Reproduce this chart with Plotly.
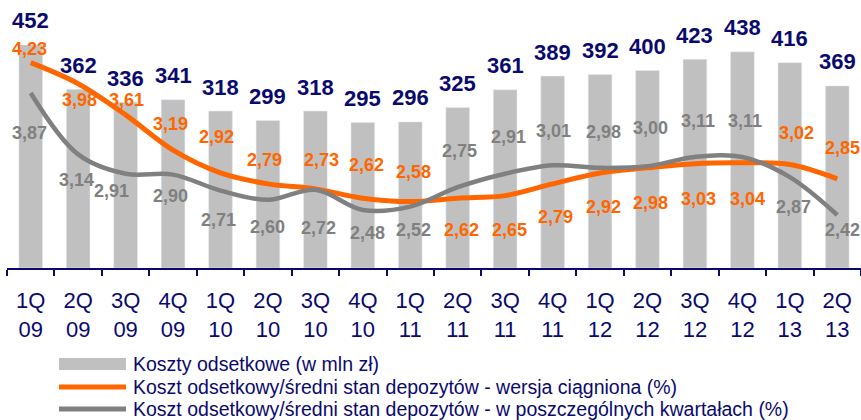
import plotly.graph_objects as go

# Quarterly data, 1Q 2009 - 2Q 2013
quarters = ["1Q", "2Q", "3Q", "4Q", "1Q", "2Q", "3Q", "4Q", "1Q", "2Q", "3Q", "4Q",
            "1Q", "2Q", "3Q", "4Q", "1Q", "2Q"]
years = ["09", "09", "09", "09", "10", "10", "10", "10", "11", "11", "11", "11",
         "12", "12", "12", "12", "13", "13"]
interest_costs = [452, 362, 336, 341, 318, 299, 318, 295, 296, 325, 361, 389,
                  392, 400, 423, 438, 416, 369]
rate_cumulative = [4.23, 3.98, 3.61, 3.19, 2.92, 2.79, 2.73, 2.62, 2.58, 2.62, 2.65, 2.79,
                   2.92, 2.98, 3.03, 3.04, 3.02, 2.85]
rate_quarterly = [3.87, 3.14, 2.91, 2.90, 2.71, 2.60, 2.72, 2.48, 2.52, 2.75, 2.91, 3.01,
                  2.98, 3.00, 3.11, 3.11, 2.87, 2.42]

series_names = [
    "Koszty odsetkowe (w mln zł)",
    "Koszt odsetkowy/średni stan depozytów - wersja ciągniona (%)",
    "Koszt odsetkowy/średni stan depozytów - w poszczególnych kwartałach (%)",
]

# label placement (pixel offsets from each point)
orange_dy = [14, -16, 15, 26, 36, 24, 29, 33, 30, -32, -34, -33, -34, -35, -35, -36, 32, 31]
orange_dx = [-1, 1, 1, -3, -4, -3, 6, 4, 3, 4, 4, 3, 3, 3, 4, 5, 7, 5]
gray_dy = [-40, -26, -17, -21, -29, -27, -38, -23, -23, 36, 37, 34, 36, 38, 36, 36, -30, -15]
gray_dx = [-1, -2, -14, -3, -2, 0, 3, 5, 3, 2, 3, 1, 3, 3, 3, 3, 4, 5]

NAVY = "#0A0A6E"
ORANGE = "#FF6600"
GRAY_LINE = "#808080"
GRAY_BAR = "#C0C0C0"
FONT = "Arial, Liberation Sans, sans-serif"

W, H = 861, 420
ML, MR, MT, MB = 7, 0, 0, 152

categories = [f"{q}<br>{y}" for q, y in zip(quarters, years)]


def pl(v):
    return f"{v:.2f}".replace(".", ",")


fig = go.Figure()
fig.add_trace(go.Bar(x=categories, y=interest_costs, marker_color=GRAY_BAR,
                     width=0.5, name=series_names[0], yaxis="y"))
fig.add_trace(go.Scatter(x=categories, y=rate_cumulative, mode="lines",
                         line=dict(color=ORANGE, width=5, shape="spline", smoothing=1.0),
                         name=series_names[1], yaxis="y2"))
fig.add_trace(go.Scatter(x=categories, y=rate_quarterly, mode="lines",
                         line=dict(color=GRAY_LINE, width=4.5, shape="spline", smoothing=1.0),
                         name=series_names[2], yaxis="y2"))

annotations = []
for c, v in zip(categories, interest_costs):
    annotations.append(dict(x=c, y=v, xref="x", yref="y", text=f"<b>{v}</b>",
                            showarrow=False, yshift=24, xanchor="center", yanchor="middle",
                            font=dict(family=FONT, size=22, color=NAVY)))
for c, v, dx, dy in zip(categories, rate_cumulative, orange_dx, orange_dy):
    annotations.append(dict(x=c, y=v, xref="x", yref="y2", text=f"<b>{pl(v)}</b>",
                            showarrow=False, xshift=dx, yshift=dy, xanchor="center",
                            yanchor="middle", font=dict(family=FONT, size=18, color=ORANGE)))
for c, v, dx, dy in zip(categories, rate_quarterly, gray_dx, gray_dy):
    annotations.append(dict(x=c, y=v, xref="x", yref="y2", text=f"<b>{pl(v)}</b>",
                            showarrow=False, xshift=dx, yshift=dy, xanchor="center",
                            yanchor="middle", font=dict(family=FONT, size=18, color=GRAY_LINE)))

# legend drawn below the axis
pw, ph = W - ML - MR, H - MT - MB


def px(x):
    return (x - ML) / pw


def py(y):
    return (H - MB - y) / ph


shapes = [
    dict(type="rect", xref="paper", yref="paper", x0=px(59), x1=px(126), y0=py(358), y1=py(370),
         fillcolor=GRAY_BAR, line=dict(width=0)),
    dict(type="line", xref="paper", yref="paper", x0=px(59), x1=px(126), y0=py(387), y1=py(387),
         line=dict(color=ORANGE, width=5)),
    dict(type="line", xref="paper", yref="paper", x0=px(59), x1=px(126), y0=py(409), y1=py(409),
         line=dict(color=GRAY_LINE, width=5)),
]
for name, ly in zip(series_names, [364, 387, 409]):
    annotations.append(dict(x=px(131), y=py(ly), xref="paper", yref="paper", text=name,
                            showarrow=False, xanchor="left", yanchor="middle",
                            font=dict(family=FONT, size=19.5, color=NAVY)))

fig.update_layout(
    width=W, height=H, autosize=False,
    margin=dict(l=ML, r=MR, t=MT, b=MB),
    plot_bgcolor="white", paper_bgcolor="white",
    showlegend=False,
    bargap=0.5,
    xaxis=dict(type="category", range=[-0.5, 17.5], showline=True, linecolor=NAVY, linewidth=2,
               ticks="outside", tickson="boundaries", ticklen=6, tickwidth=2, tickcolor=NAVY,
               ticklabelstandoff=12, showgrid=False, zeroline=False,
               tickfont=dict(family=FONT, size=22, color=NAVY)),
    yaxis=dict(range=[0, 543], visible=False, showgrid=False, zeroline=False),
    yaxis2=dict(range=[1.79, 4.975], overlaying="y", visible=False, showgrid=False,
                zeroline=False),
    annotations=annotations,
    shapes=shapes,
)

fig.write_html("out.html")
